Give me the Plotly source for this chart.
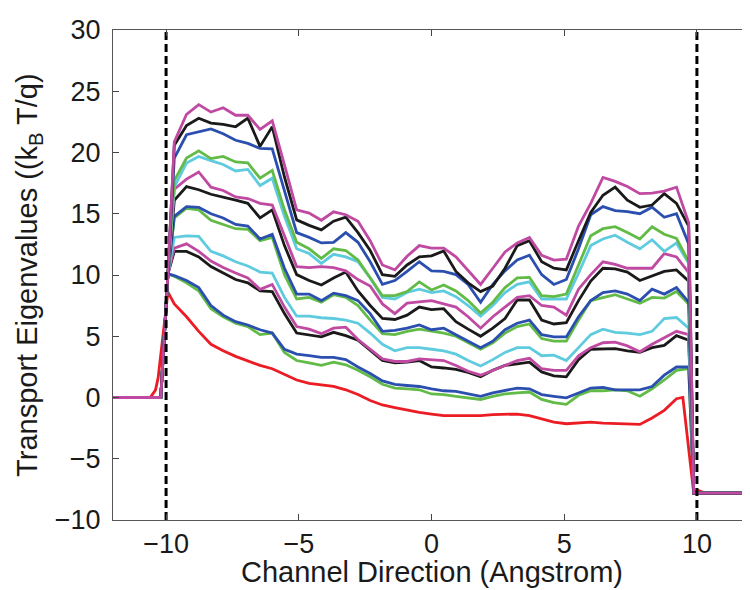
import plotly.graph_objects as go

# ---- data -----------------------------------------------------------------
x_grid = [-9.69, -9.23, -8.77, -8.31, -7.85, -7.38, -6.92, -6.46, -6.0, -5.54, -5.08,
          -4.61, -4.15, -3.69, -3.23, -2.77, -2.31, -1.85, -1.38, -0.92, -0.46, 0.0,
          0.46, 0.92, 1.38, 1.85, 2.31, 2.77, 3.23, 3.69, 4.15, 4.61, 5.08, 5.54, 6.0,
          6.46, 6.92, 7.38, 7.85, 8.31, 8.77, 9.23, 9.69]

# lead-in / lead-out points (outside the channel)
x_left = [-12.0, -10.2, -9.93]
y_left = [0.0, 0.0, 10.1]
x_right = [9.88, 12.0]
y_right = [-7.8, -7.8]

red_x_left = [-12.0, -10.6, -10.4, -10.3, -9.93]
red_y_left = [0.0, 0.0, 0.6, 1.6, 8.6]
red_x_right = [9.47, 9.88, 10.07, 10.3, 12.0]
red_y_right = [0.0, -7.8, -7.6, -7.8, -7.8]

red_1 = [7.64, 6.59, 5.4, 4.34, 3.81, 3.36, 3.02, 2.62, 2.35, 1.88, 1.43,
         1.16, 1.03, 0.9, 0.63, 0.24, -0.24, -0.61, -0.82, -1.03, -1.22, -1.35, -1.48,
         -1.48, -1.48, -1.48, -1.4, -1.35, -1.35, -1.48, -1.75, -2.01, -2.14, -2.09, -2.01,
         -2.09, -2.14, -2.2, -2.2, -1.67, -1.05, -0.1]

green_2 = [9.89, 9.36, 8.7, 7.25, 6.59, 6.06, 5.79, 5.13, 5.26, 3.68, 3.02,
           2.83, 2.62, 2.88, 2.67, 2.22, 1.69, 1.08, 0.77, 0.71, 0.63, 0.29, 0.24,
           0.1, -0.03, -0.16, 0.1, 0.29, 0.37, 0.45, -0.16, -0.42, -0.56, 0.18, 0.55,
           0.55, 0.63, 0.55, 0.1, 0.71, 1.43, 2.22, 2.35]

blue_3 = [9.95, 9.55, 8.97, 7.51, 6.72, 6.19, 5.92, 5.53, 5.26, 3.94, 3.54,
          3.41, 3.28, 3.28, 3.09, 2.49, 1.96, 1.35, 1.08, 0.98, 0.9, 0.71, 0.55,
          0.5, 0.29, 0.1, 0.37, 0.55, 0.77, 0.71, 0.24, 0.1, -0.03, 0.37, 0.77,
          0.82, 0.63, 0.63, 0.63, 0.9, 1.82, 2.49, 2.49]

black_4 = [11.93, 11.93, 11.48, 10.69, 10.16, 9.63, 9.36, 8.7, 8.65, 6.85, 5.26,
           5.13, 4.95, 5.32, 5.05, 4.68, 3.81, 3.02, 2.83, 2.88, 3.02, 2.49, 2.41,
           2.3, 2.04, 1.69, 2.22, 2.62, 2.75, 2.88, 2.09, 1.77, 1.69, 3.09, 3.94,
           3.94, 3.99, 3.81, 3.68, 4.07, 4.26, 5.05, 4.68]

magenta_5 = [12.2, 12.54, 11.93, 11.14, 10.61, 10.16, 9.76, 8.83, 9.23, 7.38, 5.79,
             5.58, 5.21, 5.66, 5.74, 4.73, 3.94, 3.15, 2.94, 2.94, 3.15, 3.09, 3.02,
             2.62, 2.14, 1.82, 2.22, 2.62, 3.02, 3.2, 2.35, 2.22, 2.22, 3.41, 4.07,
             4.47, 4.52, 4.21, 3.73, 4.34, 4.87, 5.4, 5.13]

cyan_6 = [13.07, 13.2, 13.15, 11.93, 11.56, 11.08, 10.74, 10.24, 10.16, 8.17, 6.64,
          6.64, 6.51, 6.45, 6.32, 6.06, 5.26, 4.34, 3.81, 4.07, 4.07, 3.94, 3.81,
          3.54, 3.02, 2.57, 3.09, 3.68, 4.07, 4.07, 3.41, 3.46, 3.02, 4.07, 5.13,
          5.58, 5.32, 5.26, 5.13, 5.4, 6.45, 6.53, 5.66]

green_7 = [14.66, 15.45, 15.32, 14.47, 14.13, 13.78, 13.73, 12.8, 13.07, 10.03, 8.04,
           8.17, 7.78, 8.39, 8.17, 7.51, 6.32, 5.21, 5.13, 5.4, 5.58, 5.4, 5.26,
           5.0, 4.47, 3.94, 4.47, 5.26, 5.79, 6.0, 4.81, 4.6, 4.6, 6.32, 7.91,
           8.12, 8.39, 8.04, 7.7, 8.17, 8.12, 8.65, 7.64]

blue_8 = [14.79, 15.58, 15.53, 15.0, 14.66, 14.13, 14.0, 12.94, 13.33, 10.55, 8.44,
          8.44, 7.91, 8.52, 8.31, 7.91, 6.85, 5.4, 5.48, 5.66, 5.93, 5.53, 5.66,
          5.13, 4.6, 4.07, 4.6, 5.53, 6.06, 6.32, 5.13, 4.95, 4.95, 6.59, 7.91,
          8.57, 8.7, 8.44, 7.91, 8.84, 8.44, 8.97, 7.78]

black_9 = [16.1, 17.22, 16.96, 16.59, 16.37, 16.11, 15.85, 14.66, 15.32, 12.4, 10.03,
           9.55, 9.18, 9.76, 10.24, 8.7, 7.51, 6.45, 6.37, 6.72, 7.38, 7.17, 7.25,
           6.19, 5.58, 5.0, 5.66, 6.45, 7.96, 7.96, 6.32, 6.0, 6.11, 7.91, 9.5,
           10.55, 10.5, 10.24, 9.55, 9.89, 10.29, 10.42, 9.5]

magenta_10 = [17.0, 17.83, 18.41, 17.17, 16.9, 16.37, 16.24, 15.85, 15.71, 13.2, 10.69,
              10.61, 10.69, 10.61, 10.34, 9.63, 9.1, 7.64, 6.85, 7.7, 7.78, 7.91, 7.64,
              7.38, 6.59, 5.66, 6.59, 7.38, 8.17, 8.31, 7.51, 7.38, 6.72, 8.84, 10.03,
              11.08, 10.87, 10.55, 10.55, 10.55, 11.75, 11.48, 10.2]

cyan_11 = [17.17, 19.15, 19.68, 19.34, 19.02, 18.49, 18.62, 17.3, 17.9, 14.79, 12.14,
           11.75, 10.95, 11.69, 11.48, 11.08, 9.76, 8.17, 8.04, 8.57, 8.84, 8.57, 8.7,
           8.23, 7.51, 6.64, 7.51, 8.57, 9.23, 9.44, 8.04, 8.04, 8.04, 10.16, 12.4,
           12.94, 13.25, 12.67, 12.14, 12.88, 11.93, 12.62, 10.95]

green_12 = [17.7, 19.55, 20.13, 19.5, 19.68, 19.23, 19.15, 17.9, 18.54, 15.32, 12.67,
            12.14, 11.35, 12.14, 12.0, 11.22, 9.76, 8.31, 8.31, 8.65, 9.44, 8.78, 9.18,
            8.7, 7.91, 6.9, 7.78, 8.97, 9.76, 9.81, 8.31, 8.23, 8.44, 10.82, 13.2,
            13.78, 13.94, 13.46, 12.94, 13.94, 13.33, 12.99, 11.08]

blue_13 = [19.55, 21.45, 21.72, 21.93, 21.53, 21.0, 20.74, 20.34, 20.29, 16.9, 13.46,
           13.07, 12.62, 12.67, 13.46, 12.67, 11.08, 9.23, 9.55, 10.29, 11.08, 10.34, 10.29,
           10.03, 9.23, 7.78, 9.23, 10.34, 11.22, 11.61, 10.03, 9.23, 9.63, 12.14, 14.92,
           15.58, 15.26, 15.18, 15.0, 15.53, 14.71, 15.0, 12.54]

black_14 = [20.6, 22.2, 22.8, 22.4, 22.3, 22.1, 22.8, 20.5, 22.1, 18.0, 14.5,
            14.05, 13.68, 14.39, 14.73, 13.46, 12.0, 10.03, 9.89, 10.82, 11.48, 11.56, 11.96,
            10.29, 9.36, 8.65, 9.1, 10.55, 12.4, 12.8, 11.08, 10.55, 10.42, 12.8, 15.1,
            16.51, 17.17, 16.11, 15.53, 15.71, 16.64, 15.85, 14.0]

magenta_15 = [20.87, 23.12, 23.91, 23.3, 23.65, 23.04, 23.04, 21.88, 22.59, 19.0, 15.32,
              15.05, 14.47, 15.16, 14.92, 14.39, 12.8, 10.82, 10.42, 11.53, 12.4, 12.19, 12.19,
              11.48, 10.34, 9.23, 10.55, 11.88, 12.62, 13.07, 11.61, 11.22, 11.3, 14.0, 15.85,
              17.96, 17.64, 17.22, 16.64, 16.69, 16.85, 17.17, 14.26]

boundary_x = [-10.0, 10.0]
y_ticks = [-10, -5, 0, 5, 10, 15, 20, 25, 30]
x_ticks = [-10, -5, 0, 5, 10]
x_title = "Channel Direction (Angstrom)"
y_title = "Transport Eigenvalues ((k<sub>B</sub> T/q)"

# ---- style ----------------------------------------------------------------
RED = "#EC1C24"
GREEN = "#62BB46"
BLUE = "#2B4FAE"
BLACK = "#1A1A1A"
MAGENTA = "#C04AA2"
CYAN = "#5FCBDF"

series = [
    (green_2, GREEN), (blue_3, BLUE), (black_4, BLACK), (magenta_5, MAGENTA),
    (cyan_6, CYAN), (green_7, GREEN), (blue_8, BLUE), (black_9, BLACK),
    (magenta_10, MAGENTA), (cyan_11, CYAN), (green_12, GREEN), (blue_13, BLUE),
    (black_14, BLACK), (magenta_15, MAGENTA),
]

fig = go.Figure()

fig.add_trace(go.Scatter(
    x=red_x_left + x_grid[:len(red_1)] + red_x_right,
    y=red_y_left + red_1 + red_y_right,
    mode="lines", line=dict(color=RED, width=2.8), hoverinfo="skip"))

for vals, col in series:
    fig.add_trace(go.Scatter(
        x=x_left + x_grid + x_right,
        y=y_left + vals + y_right,
        mode="lines", line=dict(color=col, width=2.8), hoverinfo="skip"))

for bx in boundary_x:
    fig.add_trace(go.Scatter(
        x=[bx, bx], y=[y_ticks[0], y_ticks[-1]],
        mode="lines", line=dict(color="black", width=3, dash="8px,4px"),
        hoverinfo="skip"))

FONT = "Liberation Sans, Arial, Helvetica, sans-serif"
TICK = 27
LABEL = 29
TOP, BOTTOM = 15, 78
PLOT_H = 590 - TOP - BOTTOM

fig.update_layout(
    width=750, height=590,
    margin=dict(l=105, r=7, t=TOP, b=BOTTOM),
    paper_bgcolor="white", plot_bgcolor="white",
    showlegend=False,
    font=dict(family=FONT, size=TICK, color="#1a1a1a"),
)
fig.update_xaxes(
    range=[-12, 12], tickvals=x_ticks, ticks="inside", ticklen=6, tickwidth=1,
    tickcolor="#444", showline=True, linecolor="#555", linewidth=1, mirror="ticks",
    showgrid=False, zeroline=False, ticklabelstandoff=0, ticklabeloverflow="allow",
    tickfont=dict(size=TICK, family=FONT),
)
fig.update_yaxes(
    range=[-10, 30], tickvals=y_ticks, ticks="inside", ticklen=6, tickwidth=1,
    tickcolor="#444", showline=True, linecolor="#555", linewidth=1, mirror="ticks",
    showgrid=False, zeroline=False, ticklabelstandoff=6, ticklabeloverflow="allow",
    tickfont=dict(size=TICK, family=FONT),
)

# axis titles placed as annotations for exact positioning
x_title_center_px = 565
fig.add_annotation(text=x_title, xref="paper", yref="paper", x=0.5,
                   y=-(x_title_center_px - (590 - BOTTOM)) / PLOT_H,
                   xanchor="center", yanchor="middle", showarrow=False,
                   font=dict(size=LABEL, family=FONT, color="#1a1a1a"))
fig.add_annotation(text=y_title, xref="paper", yref="paper", x=-0.132, y=0.5,
                   xanchor="center", yanchor="middle", textangle=-90, showarrow=False,
                   font=dict(size=LABEL, family=FONT, color="#1a1a1a"))

fig.write_html("out.html")
